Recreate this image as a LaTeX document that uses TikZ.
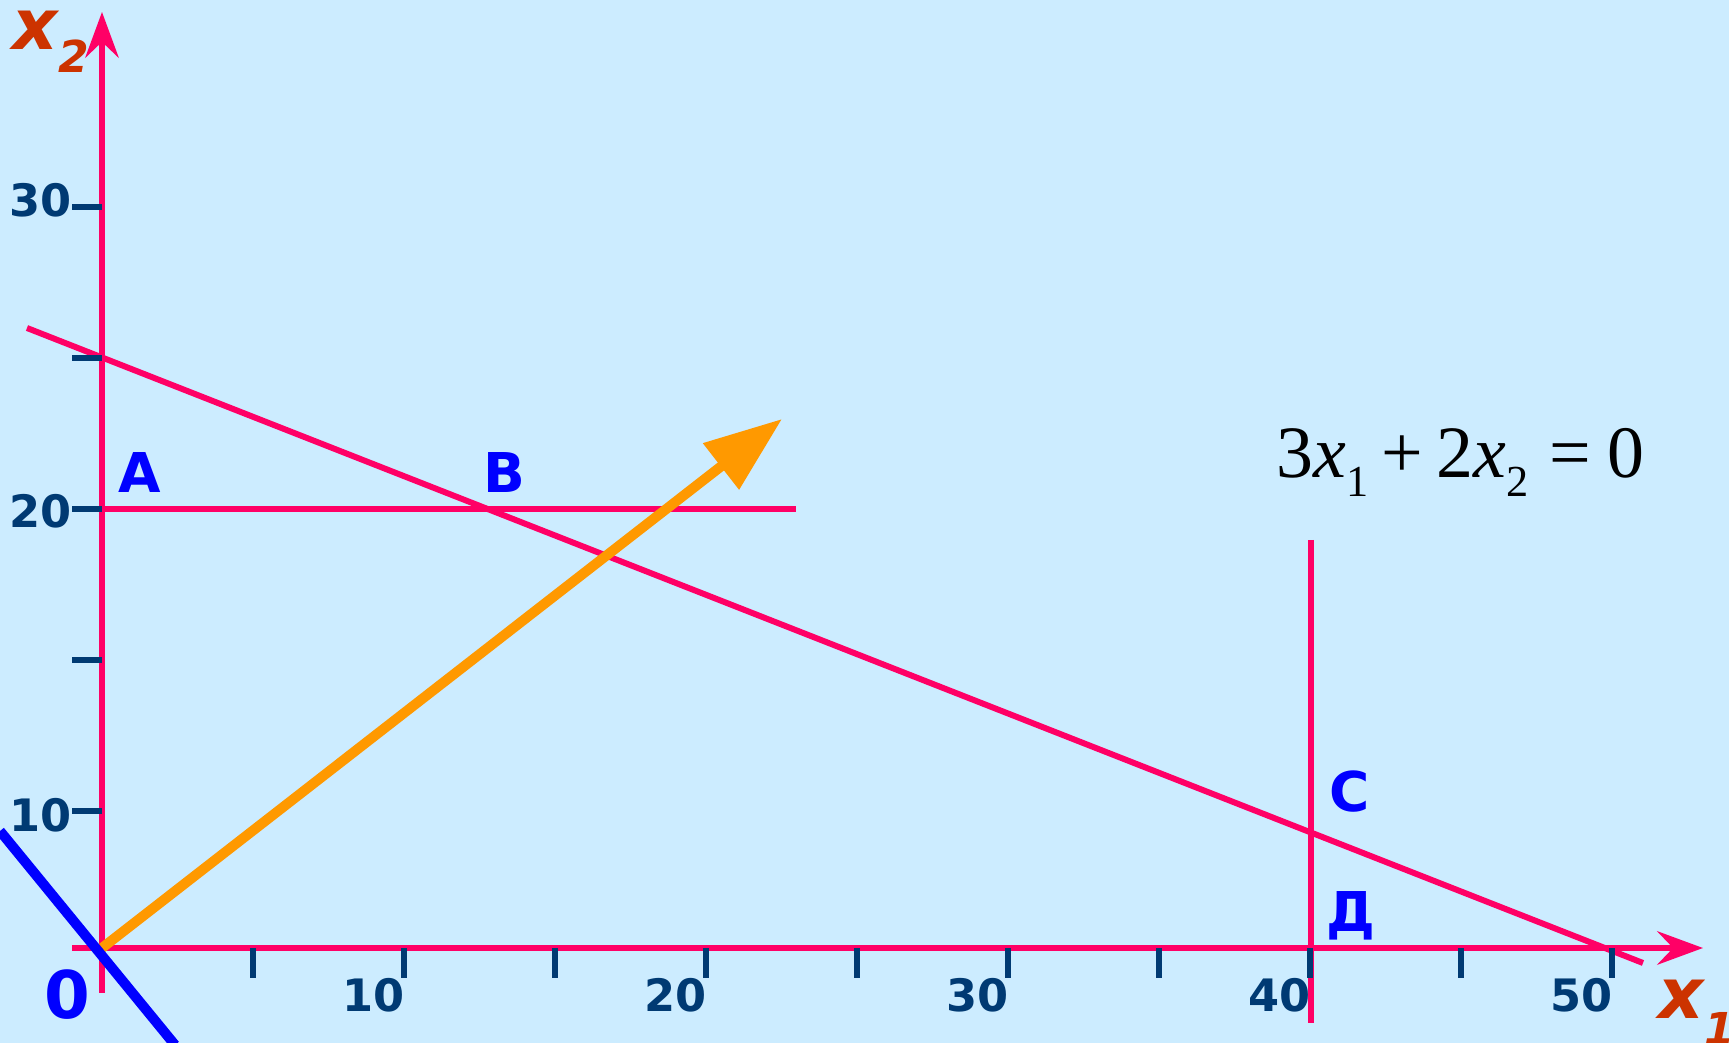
\documentclass[tikz,border=0pt]{standalone}
\usepackage{fontspec}
\setmainfont{DejaVu Sans}[ItalicFont={DejaVu Sans Oblique},BoldFont={DejaVu Sans Bold},BoldItalicFont={DejaVu Sans Bold Oblique}]
\newfontfamily\eqfont{Liberation Serif}
\usetikzlibrary{arrows.meta}
\definecolor{bgblue}{RGB}{204,236,255}
\definecolor{axpink}{RGB}{255,0,102}
\definecolor{tickblue}{RGB}{0,58,115}
\definecolor{lblred}{RGB}{204,51,0}
\definecolor{ptblue}{RGB}{0,0,255}
\definecolor{objorange}{RGB}{255,153,0}

\begin{document}
\begin{tikzpicture}[x=0.01cm, y=-0.01cm, line/.style={axpink, line width=1.7pt}, axis/.style={line, -{Stealth[length=13pt, width=9.5pt, inset=4.5pt]}}, tick/.style={tickblue, line width=1.6pt}, num/.style={font=\fontsize{12.7}{12.7}\selectfont\bfseries, text=tickblue, inner sep=0pt, anchor=base east}, pt/.style={font=\fontsize{15.6}{15.6}\selectfont\bfseries, text=ptblue, inner sep=0pt, anchor=base}, axlbl/.style={font=\fontsize{20}{20}\selectfont\bfseries\itshape, text=lblred, inner sep=0pt, anchor=base west}]
\fill[bgblue] (0,0) rectangle (1729,1043);
\useasboundingbox (0,0) rectangle (1729,1043);
\coordinate (O) at (102,948);
\coordinate (x1from) at (72,948); \coordinate (x1to) at (1703,948);
\coordinate (x2from) at (102,993); \coordinate (x2to) at (102,12);
\coordinate (hfrom) at (87,509); \coordinate (hto) at (796,509);
\coordinate (sfrom) at (27,328); \coordinate (sto) at (1643,963);
\coordinate (vfrom) at (1311,540); \coordinate (vto) at (1311,1023);
\coordinate (grad) at (782,419);
\coordinate (lfrom) at (0,831); \coordinate (lto) at (175,1045);
\draw[line] (hfrom) -- (hto); \draw[line] (vfrom) -- (vto);
\draw[axis] (x2from) -- (x2to); \draw[axis] (x1from) -- (x1to);
\draw[line] (sfrom) -- (sto);
\draw[tick] (253,948)--(253,978) (404,948)--(404,978) (555,948)--(555,978) (706,948)--(706,978) (857,948)--(857,978) (1008,948)--(1008,978) (1159,948)--(1159,978) (1310,948)--(1310,978) (1461,948)--(1461,978) (1612,948)--(1612,978);
\draw[tick] (72,207)--(102,207) (72,358)--(102,358) (72,509)--(102,509) (72,660)--(102,660) (72,811)--(102,811);
\draw[objorange, line width=2.85pt, -{Triangle[length=22pt, width=16pt]}] (O) -- (grad);
\draw[ptblue, line width=2.85pt] (lfrom) -- (lto);
\node[num] (y30) at (72,217) {30};
\node[num] (y20) at (72,528) {20};
\node[num] (y10) at (72,832) {10};
\node[num] (x10) at (405,1012) {10};
\node[num] (x20) at (707,1012) {20};
\node[num] (x30) at (1009,1012) {30};
\node[num] (x40) at (1311,1012) {40};
\node[num] (x50) at (1613,1012) {50};
\node[axlbl] (x2lbl) at (12,50) {x\raisebox{-6.5pt}{\fontsize{12.5}{12.5}\selectfont 2}};
\node[axlbl] (x1lbl) at (1658,1018) {x\raisebox{-7.4pt}{\fontsize{12.5}{12.5}\selectfont 1}};
\node[pt, font=\fontsize{18.7}{18.7}\selectfont\bfseries] (zero) at (67,1018) {0};
\node[pt] (ptA) at (140,493) {A};
\node[pt] (ptB) at (504,493) {B};
\node[pt] (ptC) at (1350,812) {C};
\node[pt] (ptD) at (1351,932) {Д};
\node[font=\eqfont\fontsize{21}{21}\selectfont, inner sep=0pt, anchor=base west] (eqn) at (1276,478) {3\textit{x}\raisebox{-5.4pt}{\fontsize{12.6}{12.6}\selectfont 1}\hspace{3.6pt}+\hspace{4pt}2\textit{x}\raisebox{-5.4pt}{\fontsize{12.6}{12.6}\selectfont 2}\hspace{5.9pt}=\hspace{4.7pt}0};
\end{tikzpicture}
\end{document}
